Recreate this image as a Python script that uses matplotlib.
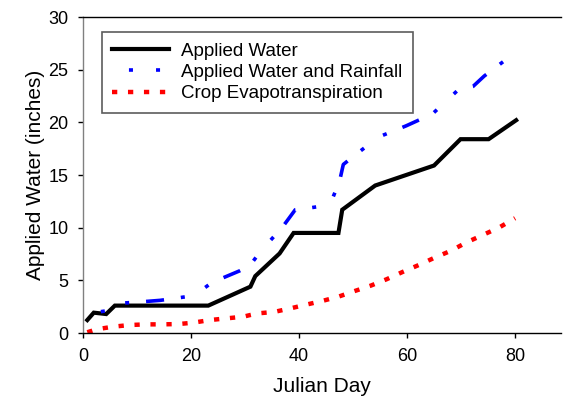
import matplotlib
matplotlib.use("Agg")
import matplotlib.pyplot as plt

plt.rcParams['font.family'] = ['Liberation Sans', 'DejaVu Sans']
plt.rcParams['lines.scale_dashes'] = False

# Applied Water
aw_day = [0.8, 2.0, 4.3, 5.9, 23.2, 31.0, 31.9, 36.4, 39.0, 47.3, 48.0, 54.1, 65.0, 69.9, 75.1, 80.2]
aw = [1.23, 1.93, 1.8, 2.6, 2.6, 4.4, 5.4, 7.55, 9.5, 9.5, 11.7, 14.0, 15.9, 18.4, 18.4, 20.2]

# Applied Water and Rainfall
awr_day = [0.8, 2.0, 4.3, 5.9, 9.3, 14.3, 19.2, 20.7, 23.9, 29.0, 30.9, 32.8, 37.0, 39.3, 40.9,
           45.7, 47.5, 48.2, 49.9, 54.7, 59.8, 64.7, 69.3, 72.2, 74.3, 79.2]
awr = [1.23, 1.93, 2.1, 2.8, 2.9, 3.1, 3.45, 3.6, 4.8, 5.9, 6.4, 7.7, 10.1, 11.7, 11.8,
       12.15, 14.4, 16.0, 16.7, 18.6, 19.66, 20.8, 23.0, 23.4, 24.4, 26.3]

# Crop Evapotranspiration
et_day = [0.8, 2.5, 5.6, 8.7, 11.8, 14.6, 17.7, 20.4, 23.5, 26.6, 29.7, 30.9, 32.5, 35.4, 38.5,
          41.4, 44.5, 47.3, 50.4, 53.3, 56.2, 59.2, 62.2, 65.1, 68.1, 71.0, 74.0, 77.0, 80.0]
et = [0.07, 0.35, 0.6, 0.76, 0.82, 0.82, 0.85, 0.98, 1.23, 1.39, 1.55, 1.7, 1.87, 2.0, 2.35,
      2.7, 3.07, 3.45, 4.0, 4.5, 5.1, 5.8, 6.46, 7.15, 7.8, 8.6, 9.3, 10.0, 10.9]

xticks = [0, 20, 40, 60, 80]
yticks = [0, 5, 10, 15, 20, 25, 30]

fig = plt.figure(figsize=(5.63, 4.0), dpi=100)
ax = fig.add_axes([0.1474, 0.1675, 0.849, 0.79])

ax.plot(aw_day, aw, color='black', lw=3.0, solid_joinstyle='miter', label='Applied Water')
ax.plot(awr_day, awr, color='#0000ff', lw=2.6,
        linestyle=(13, (13, 12.2, 2.9, 16.6, 2.9, 12.2)), label='Applied Water and Rainfall')
ax.plot(et_day, et, color='#ff0000', lw=3.2,
        linestyle=(0, (3.8, 7.7)), label='Crop Evapotranspiration')

ax.set_xlim(0, 88.5)
ax.set_ylim(0, 30)
ax.set_xticks(xticks)
ax.set_yticks(yticks)
ax.tick_params(axis='both', direction='out', length=3.6, width=1, labelsize=13, pad=7)

ax.spines['right'].set_visible(False)
ax.spines['left'].set_color('#808080')
ax.spines['top'].set_color('black')
ax.spines['bottom'].set_color('black')
for s in ['left', 'top', 'bottom']:
    ax.spines[s].set_linewidth(1.0)

ax.set_xlabel('Julian Day', fontsize=15, labelpad=9)
ax.set_ylabel('Applied Water (inches)', fontsize=15, labelpad=2)

leg = ax.legend(loc='upper left', bbox_to_anchor=(0.039, 0.9516), borderaxespad=0,
                fontsize=13.5, handlelength=3.04, handletextpad=0.64, labelspacing=0.22,
                fancybox=False, frameon=True, borderpad=0.55)
leg.get_frame().set_edgecolor('#333333')
leg.get_frame().set_linewidth(1.2)

fig.savefig('out.png', dpi=100)
